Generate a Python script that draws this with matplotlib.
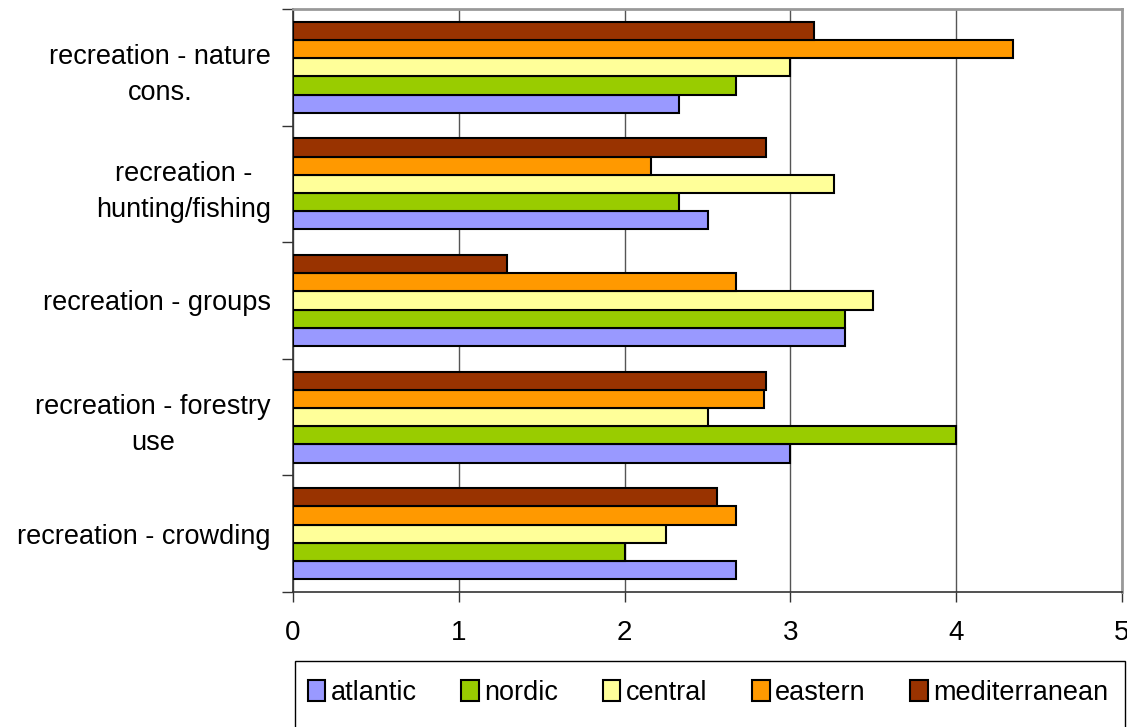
import numpy as np
import matplotlib.pyplot as plt
from matplotlib.patches import Rectangle

plt.rcParams['font.family'] = ['Liberation Sans', 'DejaVu Sans']

categories = ['recreation - crowding', 'recreation - forestry\nuse', 'recreation - groups',
              'recreation -\nhunting/fishing', 'recreation - nature\ncons.']
regions = ['atlantic', 'nordic', 'central', 'eastern', 'mediterranean']
colors = ['#9999ff', '#99cc00', '#ffff99', '#ff9900', '#993300']

atlantic = [2.67, 3.00, 3.33, 2.50, 2.33]
nordic = [2.00, 4.00, 3.33, 2.33, 2.67]
central = [2.25, 2.50, 3.50, 3.26, 3.00]
eastern = [2.67, 2.84, 2.67, 2.16, 4.34]
mediterranean = [2.56, 2.85, 1.29, 2.85, 3.14]
series = [atlantic, nordic, central, eastern, mediterranean]

fig = plt.figure(figsize=(11.27, 7.27), dpi=100)
ax = fig.add_axes([293 / 1127, 1 - 592 / 727, 829 / 1127, 583 / 727])

y = np.arange(len(categories))
h = 0.156
for i, (vals, name, c) in enumerate(zip(series, regions, colors)):
    ax.barh(y + (i - 2) * h, vals, height=h, color=c, edgecolor='black',
            linewidth=1.5, label=name, zorder=3)

ax.set_xlim(0, 5)
ax.set_ylim(-0.5, len(categories) - 0.5)
ax.set_xticks(range(6))
ax.set_xticklabels([str(v) for v in range(6)], fontsize=20)
ax.xaxis.grid(True, color='#555555', linewidth=1, zorder=0)
ax.tick_params(axis='x', length=7, width=1, color='#333333', pad=13)

ax.set_yticks(y)
ax.set_yticklabels(categories, fontsize=19.5, multialignment='center', linespacing=1.5)
ax.set_yticks(np.arange(-0.5, len(categories), 1), minor=True)
ax.tick_params(axis='y', which='major', length=0, pad=16)
ax.tick_params(axis='y', which='minor', length=8, width=1, color='#333333')

for s in ['top', 'right']:
    ax.spines[s].set_color('#999999')
    ax.spines[s].set_linewidth(2)
for s in ['left', 'bottom']:
    ax.spines[s].set_color('#333333')
    ax.spines[s].set_linewidth(1.2)

# legend box along the bottom
fig.patches.append(Rectangle((295 / 1127, -0.02), 830 / 1127, 0.1108,
                             transform=fig.transFigure, fill=False,
                             edgecolor='black', linewidth=1))
fig.legend(loc='center', bbox_to_anchor=(708 / 1127, 1 - 693 / 727), ncol=5,
           frameon=False, fontsize=19.5, handlelength=0.65, handleheight=0.8,
           handletextpad=0.2, columnspacing=1.65)

fig.savefig('out.png', dpi=100)
